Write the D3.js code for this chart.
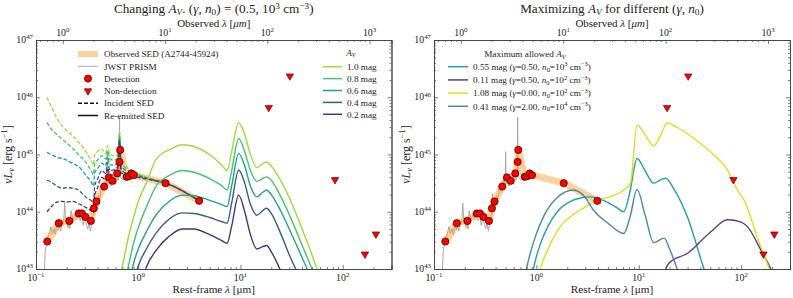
<!DOCTYPE html>
<html>
<head>
<meta charset="utf-8">
<script src="https://cdn.jsdelivr.net/npm/d3@7"></script>
<style>
  body { margin: 0; background: #fff; }
  svg text { font-family: "Liberation Serif", "DejaVu Serif", serif; fill: #222; }
</style>
</head>
<body>
<div id="chart"></div>
<script>
// Geometry of the two panels (pixels)
const W = 793, H = 298;
const panelX = [[36, 391.5], [434, 790]];
const plotTop = 40, plotBottom = 269;
const onePlusZ = 5.465;         // observed / rest-frame wavelength (z = 4.465)
const xDomain = [0.1, 300], yDomain = [1e43, 1e47];

// ---- photometry (rest-frame um, log10 nuLnu) ----
const detLam  = [0.129, 0.167, 0.212, 0.262, 0.281, 0.304, 0.344, 0.368, 0.390, 0.464, 0.516, 0.560, 0.622, 0.656, 0.666, 0.768, 0.811, 0.860, 0.907, 1.85, 3.94];
const detLogL = [43.48, 43.80, 43.84, 43.97, 43.97, 43.91, 43.84, 44.06, 44.18, 44.44, 44.60, 44.54, 44.67, 44.87, 45.08, 44.61, 44.62, 44.67, 44.64, 44.50, 44.19];
const ulLam   = [18.9, 30.4, 84, 165, 211];
const ulLogL  = [45.82, 46.37, 44.56, 43.26, 43.61];

// ---- JWST PRISM spectrum ----
const specLam  = [0.119, 0.121, 0.123, 0.126, 0.13, 0.135, 0.14, 0.145, 0.15, 0.155, 0.16, 0.165, 0.17, 0.175, 0.18, 0.186, 0.191, 0.196, 0.20, 0.205, 0.21, 0.215, 0.22, 0.23, 0.24, 0.25, 0.26, 0.27, 0.28, 0.29, 0.30, 0.31, 0.32, 0.33, 0.34, 0.35, 0.36, 0.368, 0.373, 0.378, 0.387, 0.40, 0.41, 0.42, 0.434, 0.45, 0.47, 0.486, 0.495, 0.5007, 0.507, 0.52, 0.54, 0.56, 0.58, 0.60, 0.62, 0.64, 0.65, 0.6563, 0.662, 0.67, 0.70, 0.73, 0.76, 0.80, 0.85, 0.90, 0.95];
const specLogL = [42.5, 43.0, 43.3, 43.42, 43.55, 43.62, 43.74, 43.62, 43.7, 43.6, 43.82, 43.68, 43.75, 43.66, 43.84, 43.78, 44.15, 43.8, 43.9, 43.72, 43.82, 43.7, 44.02, 43.84, 43.96, 43.86, 44.0, 43.84, 43.94, 43.76, 43.93, 43.78, 43.7, 43.8, 43.66, 43.78, 43.92, 44.05, 44.32, 44.08, 44.22, 44.1, 44.28, 44.22, 44.42, 44.36, 44.45, 44.62, 44.48, 45.05, 44.5, 44.52, 44.45, 44.5, 44.55, 44.48, 44.58, 44.55, 44.78, 45.65, 44.8, 44.6, 44.56, 44.6, 44.55, 44.6, 44.56, 44.62, 44.56];

// ---- left panel: incident SEDs (dashed) ----
const incLam = [0.128, 0.14, 0.16, 0.18, 0.20, 0.23, 0.26, 0.29, 0.32, 0.345, 0.365, 0.375, 0.40, 0.44, 0.48, 0.50, 0.53, 0.58, 0.63, 0.656, 0.68, 0.72, 0.80, 0.90, 1.0, 1.3, 1.85, 3.94];
const inc10 = [46.0, 45.85, 45.63, 45.5, 45.42, 45.32, 45.22, 45.12, 45.0, 44.9, 44.82, 45.0, 45.05, 45.1, 45.02, 45.15, 45.0, 44.98, 45.0, 45.4, 44.92, 44.85, 44.76, 44.7, 44.66, 44.58, 44.5, 44.19];
const inc08 = [45.56, 45.45, 45.35, 45.27, 45.2, 45.1, 45.0, 44.92, 44.82, 44.72, 44.65, 44.85, 44.9, 44.98, 44.92, 45.07, 44.92, 44.9, 44.93, 45.35, 44.86, 44.8, 44.72, 44.68, 44.65, 44.58, 44.5, 44.19];
const inc06 = [45.04, 45.0, 44.95, 44.93, 44.9, 44.84, 44.79, 44.7, 44.6, 44.53, 44.45, 44.68, 44.75, 44.85, 44.8, 44.97, 44.82, 44.82, 44.86, 45.3, 44.79, 44.75, 44.68, 44.66, 44.63, 44.57, 44.5, 44.19];
const inc04 = [44.55, 44.52, 44.45, 44.41, 44.42, 44.41, 44.38, 44.3, 44.23, 44.2, 44.15, 44.45, 44.57, 44.72, 44.67, 44.86, 44.72, 44.73, 44.79, 45.25, 44.73, 44.7, 44.65, 44.64, 44.62, 44.57, 44.5, 44.19];
const inc02 = [44.0, 44.08, 44.17, 44.18, 44.17, 44.18, 44.14, 44.1, 44.06, 44.02, 43.98, 44.27, 44.42, 44.6, 44.56, 44.76, 44.63, 44.66, 44.73, 45.2, 44.68, 44.66, 44.62, 44.62, 44.6, 44.56, 44.5, 44.19];

// ---- left panel: re-emitted SEDs (solid) ----
const emLam = [0.6, 0.7, 0.8, 0.9, 1.0, 1.2, 1.5, 2.0, 2.7, 3.5, 5.0, 6.5, 7.4, 8.2, 9.6, 11, 12.5, 14.5, 16.5, 18, 20, 25, 30, 40, 50, 60];
const em10 = [42.6, 43.05, 43.55, 43.9, 44.18, 44.5, 44.92, 45.08, 45.17, 45.14, 45.0, 44.82, 44.72, 45.05, 45.56, 45.35, 45.0, 44.77, 44.84, 44.87, 44.8, 44.53, 44.25, 43.7, 43.25, 42.85];
const em08 = [41.8, 42.55, 43.05, 43.45, 43.72, 44.08, 44.45, 44.63, 44.72, 44.69, 44.58, 44.46, 44.38, 44.72, 45.28, 45.05, 44.72, 44.53, 44.58, 44.61, 44.55, 44.25, 43.95, 43.42, 43.0, 42.6];
const em06 = [41.3, 42.0, 42.65, 43.1, 43.35, 43.65, 43.95, 44.18, 44.29, 44.28, 44.2, 44.13, 44.09, 44.45, 45.02, 44.8, 44.45, 44.26, 44.34, 44.38, 44.3, 44.0, 43.7, 43.2, 42.8, 42.4];
const em04 = [40.8, 41.5, 42.2, 42.75, 43.05, 43.35, 43.63, 43.87, 43.98, 43.97, 43.9, 43.83, 43.8, 44.15, 44.73, 44.5, 44.13, 43.94, 44.02, 44.06, 43.97, 43.6, 43.25, 42.75, 42.3, 41.9];
const em02 = [40.0, 40.8, 41.5, 42.1, 42.55, 43.03, 43.33, 43.57, 43.7, 43.7, 43.6, 43.5, 43.45, 43.75, 44.29, 44.0, 43.6, 43.35, 43.39, 43.41, 43.3, 42.95, 42.6, 42.1, 41.7, 41.3];
const avLabels = ["1.0 mag", "0.8 mag", "0.6 mag", "0.4 mag", "0.2 mag"];
const avColors = ["#a0da39", "#4ac16d", "#1fa187", "#365c8d", "#46327e"];

// ---- right panel: maximum allowed A_V ----
const maxLabels = ["0.55 mag", "0.11 mag", "1.08 mag", "0.41 mag"];
const maxGamma  = ["0.50", "0.50", "0.00", "2.00"];
const maxN0exp  = ["3", "2", "2", "4"];
const maxColors = ["#21a0a0", "#5b3a94", "#d9e21c", "#4a86a8"];
const m055Lam = [0.8, 0.935, 1.1, 1.3, 1.6, 2.15, 2.7, 3.36, 4.5, 6.0, 7.13, 8.2, 9.62, 11.5, 14.0, 16.5, 18.3, 22, 30, 43.4, 55];
const m055L   = [42.2, 43.0, 43.45, 43.75, 44.0, 44.18, 44.24, 44.26, 44.2, 44.08, 44.0, 44.35, 44.93, 44.72, 44.5, 44.56, 44.585, 44.4, 43.9, 43.0, 42.5];
const m011Lam = [17.5, 18.3, 20.5, 29.8, 50.5, 73.4, 100, 115, 156, 195, 230];
const m011L   = [42.8, 43.0, 43.13, 43.27, 43.65, 43.86, 43.82, 43.74, 43.33, 43.0, 42.7];
const m108Lam = [0.9, 1.09, 1.3, 1.71, 2.2, 2.68, 3.3, 3.9, 5.27, 7.13, 8.29, 9.62, 11.5, 14.0, 16.5, 18.9, 25, 34.6, 54.3, 73.4, 92, 107, 146.7, 188, 230];
const m108L   = [42.3, 43.0, 43.35, 43.74, 43.93, 44.03, 44.13, 44.2, 44.26, 44.38, 44.5, 45.51, 45.35, 45.15, 45.35, 45.55, 45.45, 45.28, 44.99, 44.73, 44.38, 44.2, 43.51, 43.0, 42.5];
const m041Lam = [0.7, 0.8, 0.95, 1.2, 1.6, 2.3, 3.0, 3.6, 5.0, 7.13, 8.2, 9.62, 11.5, 14.0, 17.7, 20, 23.7, 30];
const m041L   = [42.4, 43.0, 43.5, 43.95, 44.25, 44.38, 44.25, 44.03, 43.8, 43.62, 43.9, 44.39, 43.95, 43.46, 43.54, 43.35, 43.0, 42.4];

const svg = d3.select("#chart").append("svg")
    .attr("width", W).attr("height", H);

// rich text with italics / sub / superscripts
function rich(sel, parts, size, supShift = 0.38) {
    let shift = 0;
    parts.forEach(p => {
        const target = p.sup ? -supShift * size : p.sub ? 0.18 * size : 0;
        const ts = sel.append("tspan").text(p.t);
        if (target !== shift) ts.attr("dy", target - shift);
        if (p.sup || p.sub) ts.attr("font-size", size * 0.7);
        if (p.i) ts.attr("font-style", "italic");
        shift = target;
    });
    return sel;
}

function pow10(sel, e, size) {
    sel.text(null);
    rich(sel, [{t: "10"}, {t: e, sup: true}], size);
}

function minorTicks(lo, hi) {
    const out = [];
    for (let e = -2; e <= 4; e++)
        for (let m = 2; m <= 9; m++) {
            const v = m * Math.pow(10, e);
            if (v > lo && v < hi) out.push(v);
        }
    return out;
}

const tickFs = 9.8, labFs = 11.2;

function drawPanel(idx) {
    const [x0, x1] = panelX[idx];
    const w = x1 - x0, h = plotBottom - plotTop;
    const g = svg.append("g").attr("transform", "translate(" + x0 + "," + plotTop + ")");

    const x = d3.scaleLog().domain(xDomain).range([0, w]);
    const xo = d3.scaleLog().domain([xDomain[0] * onePlusZ, xDomain[1] * onePlusZ]).range([0, w]);
    const y = d3.scaleLog().domain(yDomain).range([h, 0]);

    const clipId = "clip" + idx;
    g.append("clipPath").attr("id", clipId)
        .append("rect").attr("width", w).attr("height", h);
    const plot = g.append("g").attr("clip-path", "url(#" + clipId + ")");

    const line = d3.line()
        .x(d => x(d[0]))
        .y(d => y(Math.pow(10, d[1])))
        .curve(d3.curveMonotoneX);
    const straight = d3.line().x(d => x(d[0])).y(d => y(Math.pow(10, d[1])));
    const pairs = (a, b) => a.map((v, i) => [v, b[i]]);

    // spectrum and observed SED band
    plot.append("path").datum(pairs(specLam, specLogL))
        .attr("d", straight)
        .attr("fill", "none").attr("stroke", "#a8a8a8").attr("stroke-width", 1);
    plot.append("path").datum(pairs(detLam, detLogL))
        .attr("d", straight)
        .attr("fill", "none").attr("stroke", "#fb9a29").attr("stroke-opacity", 0.45)
        .attr("stroke-width", 7).attr("stroke-linejoin", "round").attr("stroke-linecap", "round");

    if (idx === 0) {
        const inc = [inc10, inc08, inc06, inc04, inc02];
        const em = [em10, em08, em06, em04, em02];
        inc.forEach((vals, i) => {
            plot.append("path").datum(pairs(incLam, vals))
                .attr("d", line).attr("fill", "none")
                .attr("stroke", avColors[i]).attr("stroke-width", 1.3)
                .attr("stroke-dasharray", "4,2");
        });
        em.forEach((vals, i) => {
            plot.append("path").datum(pairs(emLam, vals))
                .attr("d", line).attr("fill", "none")
                .attr("stroke", avColors[i]).attr("stroke-width", 1.4);
        });
    } else {
        const lams = [m055Lam, m011Lam, m108Lam, m041Lam];
        const vals = [m055L, m011L, m108L, m041L];
        lams.forEach((lam, i) => {
            plot.append("path").datum(pairs(lam, vals[i]))
                .attr("d", line).attr("fill", "none")
                .attr("stroke", maxColors[i]).attr("stroke-width", 1.4);
        });
    }

    // markers
    plot.selectAll("circle.det").data(pairs(detLam, detLogL)).enter()
        .append("circle")
        .attr("cx", d => x(d[0])).attr("cy", d => y(Math.pow(10, d[1])))
        .attr("r", 3.6).attr("fill", "#f00").attr("stroke", "#300").attr("stroke-width", 0.7);
    const tri = d3.symbol().type(d3.symbolTriangle).size(24);
    plot.selectAll("path.ul").data(pairs(ulLam, ulLogL)).enter()
        .append("path")
        .attr("d", tri)
        .attr("transform", d => "translate(" + x(d[0]) + "," + y(Math.pow(10, d[1])) + ") rotate(180)")
        .attr("fill", "#f00").attr("stroke", "#300").attr("stroke-width", 0.6);

    // axes with inward ticks
    const major = [0.1, 1, 10, 100];
    const bottom = g.append("g").attr("transform", "translate(0," + h + ")")
        .call(d3.axisBottom(x).tickValues(major).tickSize(-4).tickFormat(""));
    bottom.append("g").call(d3.axisBottom(x).tickValues(minorTicks(0.1, 300)).tickSize(-2).tickFormat(""));
    const bottomLbl = ["\u22121", "0", "1", "2"];
    major.forEach((v, i) => {
        const t = g.append("text").attr("x", x(v)).attr("y", h + 11.5)
            .attr("text-anchor", "middle").attr("font-size", tickFs);
        pow10(t, bottomLbl[i], tickFs);
    });

    const obsMajor = [1, 10, 100, 1000];
    const top = g.append("g")
        .call(d3.axisTop(xo).tickValues(obsMajor).tickSize(-4).tickFormat(""));
    top.append("g").call(d3.axisTop(xo).tickValues(minorTicks(xDomain[0] * onePlusZ, xDomain[1] * onePlusZ)).tickSize(-2).tickFormat(""));
    obsMajor.forEach((v, i) => {
        const t = g.append("text").attr("x", xo(v)).attr("y", -4.5)
            .attr("text-anchor", "middle").attr("font-size", tickFs);
        pow10(t, String(i), tickFs);
    });

    const yMajor = [1e43, 1e44, 1e45, 1e46, 1e47];
    const yMinor = minorTicks(1, 1e4).map(v => v * 1e43);
    const left = g.append("g")
        .call(d3.axisLeft(y).tickValues(yMajor).tickSize(-4).tickFormat(""));
    left.append("g").call(d3.axisLeft(y).tickValues(yMinor).tickSize(-2).tickFormat(""));
    const right = g.append("g").attr("transform", "translate(" + w + ",0)")
        .call(d3.axisRight(y).tickValues(yMajor).tickSize(-4).tickFormat(""));
    right.append("g").call(d3.axisRight(y).tickValues(yMinor).tickSize(-2).tickFormat(""));
    yMajor.forEach((v, i) => {
        const t = g.append("text").attr("x", -3).attr("y", y(v) + 3)
            .attr("text-anchor", "end").attr("font-size", tickFs);
        pow10(t, String(43 + i), tickFs);
    });

    g.selectAll(".domain").attr("stroke", "#444").attr("stroke-width", 0.9);
    g.selectAll(".tick line").attr("stroke", "#444").attr("stroke-width", 0.7);

    // axis titles
    rich(g.append("text").attr("x", w / 2).attr("y", -13.5).attr("text-anchor", "middle").attr("font-size", 11),
        [{t: "Observed "}, {t: "\u03bb", i: true}, {t: " ["}, {t: "\u03bcm", i: true}, {t: "]"}], 11);
    rich(g.append("text").attr("x", w / 2).attr("y", h + 24).attr("text-anchor", "middle").attr("font-size", labFs),
        [{t: "Rest-frame "}, {t: "\u03bb", i: true}, {t: " [\u03bcm]"}], labFs);
    rich(g.append("text").attr("transform", "translate(-24," + (h / 2) + ") rotate(-90)")
        .attr("text-anchor", "middle").attr("font-size", 12),
        [{t: "\u03bd", i: true}, {t: "L", i: true}, {t: "\u03bd", sub: true, i: true}, {t: " [erg s"}, {t: "\u22121", sup: true}, {t: "]"}], 12);
}

drawPanel(0);
drawPanel(1);

// titles
const titleFs = 13.2;
rich(svg.append("text").attr("x", (panelX[0][0] + panelX[0][1]) / 2).attr("y", 13)
    .attr("text-anchor", "middle").attr("font-size", titleFs),
    [{t: "Changing "}, {t: "A", i: true}, {t: "V", sub: true, i: true}, {t: ". ("},
     {t: "\u03b3, n", i: true}, {t: "0", sub: true}, {t: ") = (0.5, 10"}, {t: "3", sup: true},
     {t: " cm"}, {t: "\u22123", sup: true}, {t: ")"}], titleFs, 0.3);
rich(svg.append("text").attr("x", (panelX[1][0] + panelX[1][1]) / 2).attr("y", 13)
    .attr("text-anchor", "middle").attr("font-size", titleFs),
    [{t: "Maximizing "}, {t: "A", i: true}, {t: "V", sub: true, i: true}, {t: " for different ("},
     {t: "\u03b3, n", i: true}, {t: "0", sub: true}, {t: ")"}], titleFs, 0.3);

// ---- legends ----
const fs = 9.2;
function legendText(x, yc, parts) {
    return rich(svg.append("text").attr("x", x).attr("y", yc + 3.2).attr("font-size", fs), parts, fs);
}

// left panel, symbol legend
const lg = [54, 66.3, 78.6, 90.9, 103.2, 115.5];
const hx0 = 78, hx1 = 98, tx = 104;
svg.append("line").attr("x1", hx0).attr("x2", hx1).attr("y1", lg[0]).attr("y2", lg[0])
    .attr("stroke", "#fb9a29").attr("stroke-opacity", 0.45).attr("stroke-width", 6);
legendText(tx, lg[0], [{t: "Observed SED (A2744-45924)"}]);
svg.append("line").attr("x1", hx0).attr("x2", hx1).attr("y1", lg[1]).attr("y2", lg[1])
    .attr("stroke", "#aaa").attr("stroke-width", 1);
legendText(tx, lg[1], [{t: "JWST PRISM"}]);
svg.append("circle").attr("cx", (hx0 + hx1) / 2).attr("cy", lg[2]).attr("r", 3.6)
    .attr("fill", "#f00").attr("stroke", "#300").attr("stroke-width", 0.7);
legendText(tx, lg[2], [{t: "Detection"}]);
svg.append("path").attr("d", d3.symbol().type(d3.symbolTriangle).size(24))
    .attr("transform", "translate(" + (hx0 + hx1) / 2 + "," + lg[3] + ") rotate(180)")
    .attr("fill", "#f00").attr("stroke", "#300").attr("stroke-width", 0.6);
legendText(tx, lg[3], [{t: "Non-detection"}]);
svg.append("line").attr("x1", hx0).attr("x2", hx1).attr("y1", lg[4]).attr("y2", lg[4])
    .attr("stroke", "#111").attr("stroke-width", 1.5).attr("stroke-dasharray", "4,2");
legendText(tx, lg[4], [{t: "Incident SED"}]);
svg.append("line").attr("x1", hx0).attr("x2", hx1).attr("y1", lg[5]).attr("y2", lg[5])
    .attr("stroke", "#111").attr("stroke-width", 1.5);
legendText(tx, lg[5], [{t: "Re-emitted SED"}]);

// left panel, A_V legend
rich(svg.append("text").attr("x", 351).attr("y", 55.5).attr("text-anchor", "middle").attr("font-size", fs),
    [{t: "A", i: true}, {t: "V", sub: true, i: true}], fs);
avLabels.forEach((lab, i) => {
    const yc = 66.7 + i * 11.9;
    svg.append("line").attr("x1", 323).attr("x2", 342).attr("y1", yc).attr("y2", yc)
        .attr("stroke", avColors[i]).attr("stroke-width", 1.5);
    legendText(347, yc, [{t: lab}]);
});

// right panel legend
rich(svg.append("text").attr("x", 525).attr("y", 57).attr("text-anchor", "middle").attr("font-size", fs),
    [{t: "Maximum allowed "}, {t: "A", i: true}, {t: "V", sub: true, i: true}], fs);
maxLabels.forEach((lab, i) => {
    const yc = 66.7 + i * 13.2;
    svg.append("line").attr("x1", 448).attr("x2", 468).attr("y1", yc).attr("y2", yc)
        .attr("stroke", maxColors[i]).attr("stroke-width", 1.5);
    legendText(473, yc, [{t: lab + " ("}, {t: "\u03b3", i: true}, {t: "=" + maxGamma[i] + ", "},
        {t: "n", i: true}, {t: "0", sub: true}, {t: "=10"}, {t: maxN0exp[i], sup: true},
        {t: " cm"}, {t: "\u22123", sup: true}, {t: ")"}]);
});
</script>
</body>
</html>
